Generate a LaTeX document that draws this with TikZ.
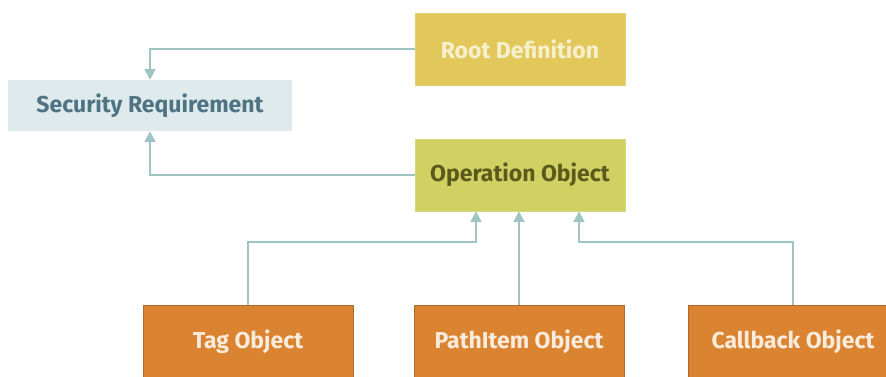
\documentclass[tikz,border=0pt]{standalone}
\usepackage{fontspec}
\setmainfont{Fira Sans}
\usetikzlibrary{arrows.meta}
\definecolor{rootc}{HTML}{E2C85A}
\definecolor{roott}{HTML}{F7F0CF}
\definecolor{opc}{HTML}{D1D063}
\definecolor{opt}{HTML}{5A5A1C}
\definecolor{secc}{HTML}{DEEAEB}
\definecolor{sect}{HTML}{4E7382}
\definecolor{orc}{HTML}{DA8431}
\definecolor{orb}{HTML}{B0692C}
\definecolor{ort}{HTML}{FAEBDD}
\definecolor{linec}{HTML}{9EC4C4}
\tikzset{
  box/.style={rectangle, inner sep=0pt, font=\bfseries\fontsize{23}{26}\selectfont},
  rootbox/.style={box, fill=rootc, draw=rootc!85!white, text=roott, minimum width=210pt, minimum height=72pt},
  opbox/.style={box, fill=opc, draw=opc!85!white, text=opt, minimum width=210pt, minimum height=72pt},
  secbox/.style={box, fill=secc, draw=none, text=sect, minimum width=284pt, minimum height=51pt},
  orbox/.style={box, fill=orc, draw=orb, line width=1pt, text=ort, minimum width=210pt, minimum height=74pt},
  conn/.style={draw=linec, line width=2.2pt, -{Triangle[width=11pt,length=11pt]}}
}
\begin{document}
\begin{tikzpicture}[x=1pt,y=-1pt]
\useasboundingbox (0,0) rectangle (886,377);
\clip (0,0) rectangle (886,377);
\node[rootbox] (root) at (520,49) {Root Definition};
\node[opbox] (op) at (520,175) {Operation Object};
\node[secbox] (sec) at (150,105.5) {Security Requirement};
\node[orbox] (tag) at (248,342) {Tag Object};
\node[orbox] (path) at (519,342) {PathItem Object};
\node[orbox] (cb) at (793,342) {Callback Object};
\coordinate (tl) at (476,242);
\coordinate (tr) at (579,242);
\draw[conn] (root.west) -| (sec.north);
\draw[conn] (op.west) -| (sec.south);
\draw[conn] (tag.north) |- (tl) -- (tl |- op.south);
\draw[conn] (path.north) -- (path.north |- op.south);
\draw[conn] (cb.north) |- (tr) -- (tr |- op.south);
\end{tikzpicture}
\end{document}
